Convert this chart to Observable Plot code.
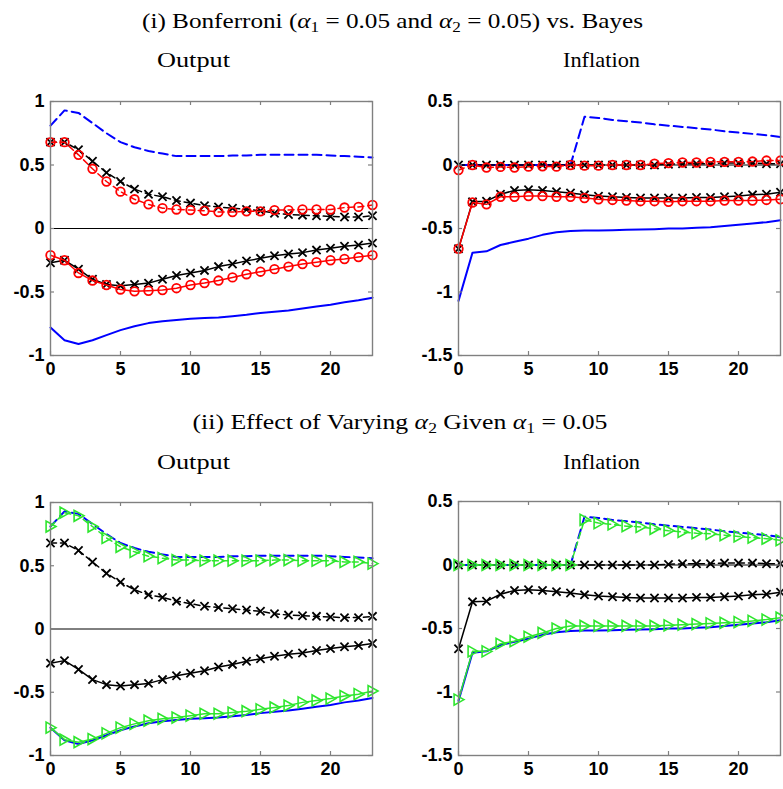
<!DOCTYPE html>
<html><head><meta charset="utf-8">
<script src="https://cdn.jsdelivr.net/npm/d3@7"></script>
<script src="https://cdn.jsdelivr.net/npm/@observablehq/plot@0.6"></script>
<style>
body{margin:0;background:#fff;overflow:hidden}
#root{position:relative;width:783px;height:789px;background:#fff}
.p{position:absolute}
#titles{position:absolute;left:0;top:0}
</style></head><body><div id="root"><svg id="titles" width="783" height="789"></svg></div>
<script>
// ---- categories / ticks ----
const horizons = [0,1,2,3,4,5,6,7,8,9,10,11,12,13,14,15,16,17,18,19,20,21,22,23];
const xTicks = [0,5,10,15,20];
const yTicksOutput = [-1,-0.5,0,0.5,1];
const yTicksInflation = [-1.5,-1,-0.5,0,0.5];

// ---- Output: Bayes band (blue) ----
const outBayesUp = [0.81,0.93,0.91,0.83,0.75,0.68,0.64,0.61,0.59,0.57,0.57,0.57,0.57,0.575,0.575,0.58,0.58,0.58,0.58,0.58,0.575,0.57,0.565,0.56];
const outBayesLo = [-0.78,-0.88,-0.91,-0.88,-0.84,-0.80,-0.77,-0.745,-0.73,-0.72,-0.71,-0.705,-0.70,-0.69,-0.68,-0.665,-0.655,-0.645,-0.63,-0.615,-0.60,-0.58,-0.565,-0.545];
// ---- Output: black x band ----
const outBlackUp = [0.68,0.68,0.62,0.53,0.44,0.37,0.31,0.27,0.25,0.22,0.20,0.18,0.17,0.16,0.15,0.14,0.12,0.11,0.105,0.10,0.095,0.09,0.09,0.10];
const outBlackLo = [-0.27,-0.25,-0.32,-0.40,-0.44,-0.45,-0.44,-0.43,-0.40,-0.37,-0.35,-0.33,-0.30,-0.28,-0.255,-0.235,-0.215,-0.20,-0.19,-0.17,-0.155,-0.14,-0.13,-0.115];
// ---- Output: Bonferroni (red o) ----
const outBonfUp = [0.68,0.68,0.58,0.47,0.37,0.29,0.23,0.19,0.16,0.15,0.145,0.14,0.13,0.13,0.135,0.135,0.145,0.145,0.15,0.15,0.15,0.165,0.17,0.185];
const outBonfLo = [-0.21,-0.25,-0.35,-0.41,-0.445,-0.48,-0.495,-0.49,-0.485,-0.47,-0.445,-0.43,-0.41,-0.385,-0.36,-0.34,-0.32,-0.30,-0.28,-0.265,-0.25,-0.24,-0.225,-0.21];
// ---- Output: varying alpha2 (green triangles) ----
const outGreenUp = [0.81,0.92,0.895,0.81,0.72,0.65,0.61,0.575,0.56,0.545,0.545,0.54,0.54,0.54,0.54,0.54,0.545,0.545,0.54,0.54,0.54,0.53,0.53,0.517];
const outGreenLo = [-0.78,-0.875,-0.895,-0.87,-0.825,-0.78,-0.75,-0.725,-0.71,-0.70,-0.685,-0.67,-0.67,-0.66,-0.65,-0.635,-0.62,-0.605,-0.58,-0.565,-0.55,-0.53,-0.515,-0.49];

// ---- Inflation: Bayes band (blue) ----
const infBayesUp = [0,0,0,0,0,0,0,0,0,0.38,0.37,0.355,0.345,0.335,0.32,0.31,0.30,0.29,0.28,0.265,0.255,0.245,0.235,0.22];
const infBayesLo = [-1.07,-0.69,-0.68,-0.63,-0.605,-0.58,-0.55,-0.53,-0.52,-0.515,-0.515,-0.513,-0.51,-0.508,-0.505,-0.50,-0.50,-0.495,-0.49,-0.48,-0.47,-0.46,-0.45,-0.435];
// ---- Inflation: black x band ----
const infBlackUp = [0,0,0,0,0,0,0,0,0,0,0,0,0,0,0,0.005,0.01,0.01,0.01,0.015,0.015,0.015,0.01,0.01];
const infBlackLo = [-0.66,-0.29,-0.285,-0.23,-0.20,-0.195,-0.20,-0.21,-0.22,-0.235,-0.245,-0.25,-0.255,-0.26,-0.26,-0.26,-0.26,-0.255,-0.255,-0.25,-0.245,-0.235,-0.23,-0.215];
// ---- Inflation: Bonferroni (red o) ----
const infBonfUp = [-0.04,0,-0.02,-0.015,-0.02,-0.013,-0.01,-0.013,0,-0.005,-0.005,0,0,0,0.01,0.015,0.02,0.02,0.025,0.025,0.025,0.027,0.035,0.035];
const infBonfLo = [-0.66,-0.295,-0.31,-0.25,-0.25,-0.245,-0.245,-0.25,-0.25,-0.26,-0.27,-0.275,-0.28,-0.285,-0.285,-0.29,-0.285,-0.285,-0.285,-0.28,-0.28,-0.28,-0.275,-0.27];
// ---- Inflation: varying alpha2 (green triangles) ----
const infGreenUp = [0,0,0,0,0,0,0,0,0,0.356,0.33,0.32,0.306,0.30,0.285,0.27,0.26,0.25,0.245,0.235,0.225,0.215,0.207,0.195];
const infGreenLo = [-1.06,-0.68,-0.68,-0.62,-0.60,-0.565,-0.535,-0.50,-0.48,-0.48,-0.48,-0.48,-0.48,-0.48,-0.48,-0.475,-0.47,-0.465,-0.46,-0.455,-0.45,-0.44,-0.43,-0.415];

// ---- text ----
const title1 = ["(i) Bonferroni (", "α", "1", " = 0.05 and ", "α", "2", " = 0.05) vs. Bayes"];
const title2 = ["(ii) Effect of Varying ", "α", "2", " Given ", "α", "1", " = 0.05"];
const panelTitles = ["Output", "Inflation"];

// ---- styles ----
const BLUE = "#0000ff", RED = "#ff0000", BLACK = "#000000", GREEN = "#2ee62e", AXIS = "#808080";
const triRight = {draw(ctx, size){ const r = Math.sqrt(size/Math.PI); ctx.moveTo(r, 0); ctx.lineTo(-r*0.8, -r); ctx.lineTo(-r*0.8, r); ctx.closePath(); }};

function tbl(arr){ return arr.map((v,i)=>({h: horizons[i], v})); }
function band(arr, o){
  const d = tbl(arr);
  const m = [Plot.line(d, {x:"h", y:"v", stroke:o.stroke, strokeWidth:o.w || 1.5, strokeDasharray:o.dash})];
  if (o.symbol) m.push(Plot.dot(d, {x:"h", y:"v", symbol:o.symbol, r:o.r, stroke:o.stroke, strokeWidth:o.sw || 1.6, fill:"none"}));
  return m;
}

function panel({left, top, width, height, ml, mr, mt, mb, yDomain, yTicks, lines}){
  const fw = width - ml - mr, fh = height - mt - mb;
  const chart = Plot.plot({
    width, height, marginLeft: ml, marginRight: mr, marginTop: mt, marginBottom: mb,
    x: {domain: [0, 23], label: null}, y: {domain: yDomain, label: null},
    style: {background: "transparent", fontFamily: "'Liberation Sans', Arial, sans-serif", fontSize: "18px", fontWeight: "bold", color: "#000", overflow: "visible"},
    marks: [
      Plot.ruleY([0], {stroke: BLACK, strokeWidth: 1}),
      ...lines.flat(),
      Plot.frame({stroke: AXIS, strokeWidth: 1.4}),
      Plot.tickX(xTicks, {x: d => d, insetTop: fh - 4, stroke: AXIS, strokeWidth: 1.2}),
      Plot.tickX(xTicks, {x: d => d, insetBottom: fh - 4, stroke: AXIS, strokeWidth: 1.2}),
      Plot.tickY(yTicks, {y: d => d, insetRight: fw - 4, stroke: AXIS, strokeWidth: 1.2}),
      Plot.tickY(yTicks, {y: d => d, insetLeft: fw - 4, stroke: AXIS, strokeWidth: 1.2}),
      Plot.axisX(xTicks, {tickSize: 0, tickPadding: 7, tickFormat: d => String(d), fill: "#000", label: null}),
      Plot.axisY(yTicks, {tickSize: 0, tickPadding: 6, tickFormat: d => String(d), fill: "#000", label: null})
    ]
  });
  chart.classList.add("p");
  chart.style.left = left + "px";
  chart.style.top = top + "px";
  document.getElementById("root").appendChild(chart);
}

const TL = {left: 0, width: 392, ml: 50, mr: 20};
const TR = {left: 392, width: 391, ml: 66, mr: 3};
const XS = {symbol: "times", r: 3.8, sw: 1.8};
const OS = {symbol: "circle", r: 4.3, sw: 1.8};
const TS = {symbol: triRight, r: 5.5, sw: 1.6};

panel({...TL, top: 90, height: 300, mt: 11, mb: 35, yDomain: [-1, 1], yTicks: yTicksOutput, lines: [
  band(outBayesUp, {stroke: BLUE, w: 2, dash: "9,5"}),
  band(outBayesLo, {stroke: BLUE, w: 2}),
  band(outBlackUp, {stroke: BLACK, dash: "6,4", ...XS}),
  band(outBlackLo, {stroke: BLACK, ...XS}),
  band(outBonfUp, {stroke: RED, dash: "6,4", ...OS}),
  band(outBonfLo, {stroke: RED, ...OS})
]});
panel({...TR, top: 90, height: 300, mt: 11, mb: 35, yDomain: [-1.5, 0.5], yTicks: yTicksInflation, lines: [
  band(infBayesUp, {stroke: BLUE, w: 2, dash: "9,5"}),
  band(infBayesLo, {stroke: BLUE, w: 2}),
  band(infBlackUp, {stroke: BLACK, dash: "6,4", ...XS}),
  band(infBlackLo, {stroke: BLACK, ...XS}),
  band(infBonfUp, {stroke: RED, dash: "6,4", ...OS}),
  band(infBonfLo, {stroke: RED, ...OS})
]});
panel({...TL, top: 490, height: 299, mt: 12, mb: 34, yDomain: [-1, 1], yTicks: yTicksOutput, lines: [
  band(outBayesUp, {stroke: BLUE, w: 2, dash: "9,5"}),
  band(outBayesLo, {stroke: BLUE, w: 2}),
  band(outBlackUp, {stroke: BLACK, dash: "6,4", ...XS}),
  band(outBlackLo, {stroke: BLACK, ...XS}),
  band(outGreenUp, {stroke: GREEN, dash: "6,4", ...TS}),
  band(outGreenLo, {stroke: GREEN, ...TS})
]});
panel({...TR, top: 490, height: 299, mt: 11, mb: 34, yDomain: [-1.5, 0.5], yTicks: yTicksInflation, lines: [
  band(infBayesUp, {stroke: BLUE, w: 2, dash: "9,5"}),
  band(infBayesLo, {stroke: BLUE, w: 2}),
  band(infBlackUp, {stroke: BLACK, dash: "6,4", ...XS}),
  band(infBlackLo, {stroke: BLACK, ...XS}),
  band(infGreenUp, {stroke: GREEN, dash: "6,4", ...TS}),
  band(infGreenLo, {stroke: GREEN, ...TS})
]});

// ---- titles ----
const svg = d3.select("#titles");
function mathText(parts, cx, y, len){
  const t = svg.append("text").attr("x", cx).attr("y", y).attr("text-anchor", "middle")
    .attr("font-family", "'Liberation Serif', 'Times New Roman', serif").attr("font-size", 22)
    .attr("textLength", len).attr("lengthAdjust", "spacingAndGlyphs");
  parts.forEach((p, i) => {
    const prevSub = /^[12]$/.test(parts[i-1] || "");
    if (p === "α") t.append("tspan").attr("font-style", "italic").attr("dy", prevSub ? -4 : 0).text(p);
    else if (/^[12]$/.test(p)) t.append("tspan").attr("font-size", 15).attr("dy", 4).text(p);
    else t.append("tspan").attr("dy", prevSub ? -4 : 0).text(p);
  });
}
mathText(title1, 392.5, 28, 501);
mathText([panelTitles[0]], 193.5, 67, 73);
mathText([panelTitles[1]], 601.5, 67, 77);
mathText(title2, 400, 429, 415);
mathText([panelTitles[0]], 193.5, 469, 73);
mathText([panelTitles[1]], 601.5, 469, 77);
</script></body></html>
